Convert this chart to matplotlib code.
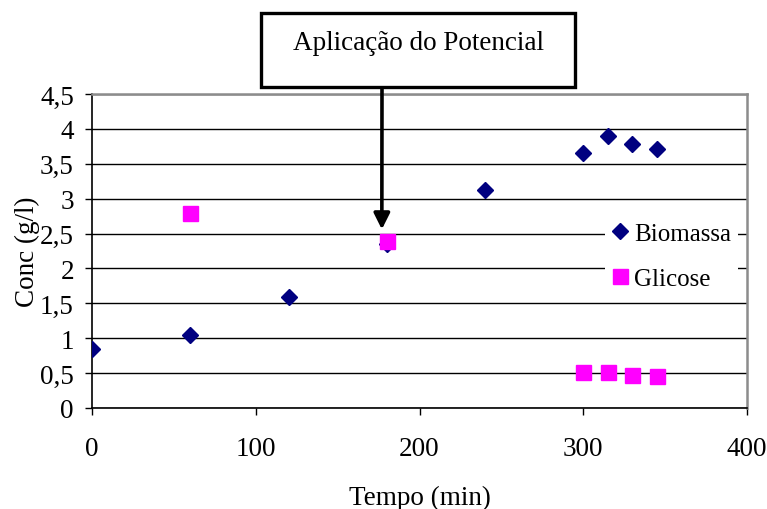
import matplotlib
matplotlib.use("Agg")
import matplotlib.pyplot as plt
from matplotlib.patches import Rectangle

plt.rcParams['font.family'] = ['Liberation Serif', 'DejaVu Serif']

tempo_bio = [0, 60, 120, 180, 240, 300, 315, 330, 345]
biomassa = [0.85, 1.05, 1.59, 2.35, 3.12, 3.65, 3.90, 3.78, 3.71]
tempo_gli = [60, 180, 300, 315, 330, 345]
glicose = [2.80, 2.39, 0.52, 0.52, 0.47, 0.46]
x_ticks = [0, 100, 200, 300, 400]
y_ticks = [0, 0.5, 1, 1.5, 2, 2.5, 3, 3.5, 4, 4.5]
y_labels = ['0', '0,5', '1', '1,5', '2', '2,5', '3', '3,5', '4', '4,5']

FS = 19.5

fig = plt.figure(figsize=(7.67, 5.10), dpi=100)
ax = fig.add_axes([92/767, 1-409/510, 655/767, 314/510])
ax.set_xlim(0, 400)
ax.set_ylim(0, 4.5)
ax.set_yticks(y_ticks)
ax.set_yticklabels(y_labels)
ax.set_xticks(x_ticks)
ax.yaxis.grid(True, color='black', lw=1.0)
ax.set_axisbelow(True)

ax.plot(tempo_bio, biomassa, linestyle='none', marker='D', ms=8.2,
        color='#000080', label='Biomassa', zorder=3)
ax.plot(tempo_gli, glicose, linestyle='none', marker='s', ms=10.8,
        color='#FF00FF', label='Glicose', zorder=4)

for s in ['top', 'right']:
    ax.spines[s].set_color('#8c8c8c')
    ax.spines[s].set_linewidth(1.8)
for s in ['left', 'bottom']:
    ax.spines[s].set_color('black')
    ax.spines[s].set_linewidth(1.2)

ax.tick_params(axis='both', direction='out', length=5, width=1, labelsize=FS, color='black')
ax.tick_params(axis='x', pad=15)
ax.tick_params(axis='y', pad=8)
ax.set_xlabel('Tempo (min)', fontsize=FS, labelpad=17)
ax.set_ylabel('Conc (g/l)', fontsize=FS, labelpad=0)

leg = ax.legend(loc='center left', bbox_to_anchor=((605-92)/655, (409-257)/314),
                fontsize=18, frameon=True, framealpha=1, facecolor='white',
                edgecolor='none', borderpad=0.3, labelspacing=0.9,
                handlelength=0.6, handletextpad=0.25, borderaxespad=0,
                fancybox=False)

# annotation box
fig.patches.append(Rectangle((261/767, 1-88/510), 314/767, 74/510,
                             transform=fig.transFigure, facecolor='white',
                             edgecolor='black', lw=2.4, zorder=5))
fig.text(418/767, 1-43/510, 'Aplicação do Potencial', ha='center', va='center',
         fontsize=FS, zorder=6)
ax.annotate('', xy=(177, 2.56), xycoords='data',
            xytext=(382/767, 1-88/510), textcoords='figure fraction',
            arrowprops=dict(arrowstyle='-|>', lw=2.6, color='black',
                            mutation_scale=24, shrinkA=0, shrinkB=0),
            annotation_clip=False, zorder=6)

fig.savefig('out.png', dpi=100)
